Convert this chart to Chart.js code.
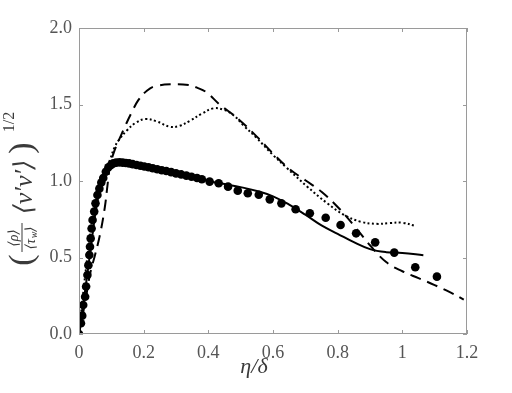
<!DOCTYPE html>
<html>
<head>
<meta charset="utf-8">
<script src="https://cdn.jsdelivr.net/npm/chart.js@4"></script>
<style>
  html, body { margin: 0; padding: 0; background: #fff; }
  #wrap { width: 512px; height: 393px; }
</style>
</head>
<body>
<div id="wrap"><canvas id="c" width="512" height="393"></canvas></div>
<script>
// markers (reference data)
const dotX = [0, .006, .010, .013, .019, .022, .026, .029, .032, .034, .036, .039, .042, .047, .051, .057,
  .063, .069, .075, .083, .091, .099, .106, .115, .125, .135, .145, .155, .166, .178, .19, .202, .215,
  .228, .242, .256, .27, .285, .30, .316, .332, .348, .365, .38, .404, .432, .461, .491, .522, .556,
  .590, .626, .670, .714, .763, .809, .857, .916, .975, 1.040, 1.107];
const dotY = [0, .07, .12, .19, .244, .31, .386, .45, .516, .57, .625, .69, .745, .80, .854, .908,
  .95, .99, 1.02, 1.06, 1.09, 1.105, 1.115, 1.12, 1.122, 1.12, 1.118, 1.115, 1.11, 1.105, 1.10, 1.095, 1.09,
  1.083, 1.077, 1.07, 1.065, 1.058, 1.05, 1.043, 1.035, 1.028, 1.02, 1.011, .996, .985, .963, .937, .92, .91,
  .880, .854, .815, .789, .760, .712, .658, .599, .532, .436, .375];

// solid line
const solidX = [0, .01, .02, .03, .04, .05, .06, .07, .08, .09, .1, .12, .15, .2, .25, .3, .35, .4, .45, .5,
  .55, .6, .65, .7, .75, .8, .85, .9, .95, 1.0, 1.065];
const solidY = [0, .15, .3, .46, .62, .78, .9, .99, 1.05, 1.08, 1.1, 1.12, 1.125, 1.1, 1.08, 1.06, 1.03, 1.0,
  .98, .96, .935, .9, .845, .78, .71, .655, .6, .555, .535, .53, .515];

// dashed line
const dashX = [0, .02, .035, .05, .065, .08, .088, .096, .11, .124, .143, .161, .184, .21, .236, .29, .34,
  .365, .394, .435, .49, .55, .6, .65, .7, .75, .8, .85, .9, .95, 1.0, 1.05, 1.1, 1.15, 1.19];
const dashY = [0, .22, .40, .52, .65, .83, .97, 1.10, 1.2, 1.27, 1.36, 1.44, 1.53, 1.59, 1.62, 1.632, 1.627,
  1.61, 1.58, 1.5, 1.41, 1.29, 1.18, 1.08, 1.005, .93, .83, .71, .58, .47, .41, .365, .32, .27, .225];

// dotted line
const dotLineX = [0, .02, .04, .06, .08, .096, .11, .124, .148, .175, .205, .24, .28, .31, .344, .38, .416,
  .448, .478, .51, .55, .6, .644, .706, .768, .82, .871, .92, .96, 1.0, 1.042];
const dotLineY = [0, .4, .72, .93, 1.06, 1.14, 1.22, 1.27, 1.33, 1.38, 1.405, 1.39, 1.355, 1.36, 1.395, 1.44,
  1.475, 1.465, 1.43, 1.36, 1.28, 1.17, 1.083, .963, .854, .778, .734, .72, .725, .727, .705];

const xTicks = [0, 0.2, 0.4, 0.6, 0.8, 1.0, 1.2];
const xTickLabels = ['0', '0.2', '0.4', '0.6', '0.8', '1', '1.2'];
const yTicks = [0, 0.5, 1.0, 1.5, 2.0];
const yTickLabels = ['0.0', '0.5', '1.0', '1.5', '2.0'];

const pts = (xs, ys) => xs.map((x, i) => ({ x: x, y: ys[i] }));
const SERIF = '"Liberation Serif", "DejaVu Serif", serif';
const tickFont = { family: SERIF, size: 18 };

// box + inward ticks + axis titles
const frame = {
  id: 'frame',
  afterDraw(chart) {
    const { ctx, chartArea: a, scales } = chart;
    ctx.save();
    ctx.strokeStyle = '#9a9a9a';
    ctx.lineWidth = 1;
    ctx.strokeRect(a.left + 0.5, a.top + 0.5, a.right - a.left - 1, a.bottom - a.top - 1);
    ctx.beginPath();
    xTicks.forEach(v => {
      const px = Math.round(scales.x.getPixelForValue(v)) + 0.5;
      ctx.moveTo(px, a.bottom); ctx.lineTo(px, a.bottom - 4);
      ctx.moveTo(px, a.top); ctx.lineTo(px, a.top + 4);
    });
    yTicks.forEach(v => {
      const py = Math.round(scales.y.getPixelForValue(v)) + 0.5;
      ctx.moveTo(a.left, py); ctx.lineTo(a.left + 4, py);
      ctx.moveTo(a.right, py); ctx.lineTo(a.right - 4, py);
    });
    ctx.stroke();

    // x title
    ctx.fillStyle = '#3a3a3a';
    ctx.font = 'italic 22px ' + SERIF;
    ctx.textAlign = 'center';
    ctx.textBaseline = 'middle';
    ctx.fillText('η/δ', 254, 367);

    // y title, rotated
    ctx.translate(25, 0);
    ctx.rotate(-Math.PI / 2);
    const at = (txt, Y, X, font) => { ctx.font = font; ctx.fillText(txt, -Y, X - 25); };
    at('(', 260, 23, '34px ' + SERIF);
    at('⟨ρ⟩', 238, 14, 'italic 14px ' + SERIF);
    ctx.beginPath();
    ctx.strokeStyle = '#3a3a3a';
    ctx.moveTo(-252, -3); ctx.lineTo(-223, -3);
    ctx.stroke();
    at('⟨τ  ⟩', 238, 31, 'italic 14px ' + SERIF);
    at('w', 235, 34, 'italic 10px ' + SERIF);
    at('⟨v′v′⟩', 187, 25, 'italic 26px ' + SERIF);
    at(')', 148, 23, '34px ' + SERIF);
    at('1/2', 122, 10, '16px ' + SERIF);
    ctx.restore();
  }
};

new Chart(document.getElementById('c'), {
  type: 'scatter',
  data: {
    datasets: [
      { data: pts(dotX, dotY), pointRadius: 4.3, pointBackgroundColor: '#000', pointBorderWidth: 0, showLine: false },
      { data: pts(solidX, solidY), showLine: true, borderColor: '#000', borderWidth: 2, pointRadius: 0, tension: 0.4 },
      { data: pts(dashX, dashY), showLine: true, borderColor: '#000', borderWidth: 2, borderDash: [11, 7], pointRadius: 0, tension: 0.4 },
      { data: pts(dotLineX, dotLineY), showLine: true, borderColor: '#000', borderWidth: 2, borderDash: [2, 2.5], pointRadius: 0, tension: 0.4 }
    ]
  },
  options: {
    responsive: false,
    animation: false,
    layout: { padding: { left: 0, top: 28, right: 45, bottom: 0 } },
    plugins: { legend: { display: false }, tooltip: { enabled: false } },
    scales: {
      x: {
        type: 'linear', min: 0, max: 1.2,
        afterBuildTicks: s => { s.ticks = xTicks.map(v => ({ value: v })); },
        afterFit: s => { s.height = 59; },
        ticks: { callback: (v, i) => xTickLabels[i], font: tickFont, color: '#555', padding: 8, maxRotation: 0, autoSkip: false },
        grid: { display: false, drawTicks: false },
        border: { display: false }
      },
      y: {
        type: 'linear', min: 0, max: 2,
        afterBuildTicks: s => { s.ticks = yTicks.map(v => ({ value: v })); },
        afterFit: s => { s.width = 79; },
        ticks: { callback: (v, i) => yTickLabels[i], font: tickFont, color: '#555', padding: 7, autoSkip: false },
        grid: { display: false, drawTicks: false },
        border: { display: false }
      }
    }
  },
  plugins: [frame]
});
</script>
</body>
</html>
